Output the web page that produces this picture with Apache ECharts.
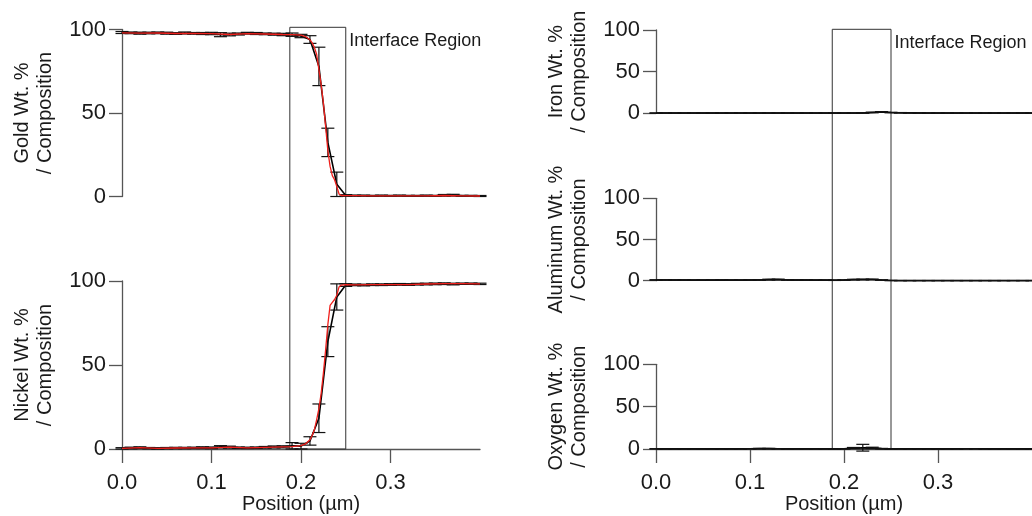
<!DOCTYPE html>
<html><head><meta charset="utf-8">
<script src="https://cdn.jsdelivr.net/npm/echarts@6/dist/echarts.min.js"></script>
<style>html,body{margin:0;padding:0;background:#fff}#c{width:1032px;height:516px}</style>
</head><body><div id="c"></div>
<script>
// ---- data ----
const positions = [0,0.01,0.02,0.03,0.04,0.05,0.06,0.07,0.08,0.09,0.10,0.11,0.12,0.13,0.14,0.15,0.16,0.17,0.18,0.19,0.20,0.21,0.22,0.23,0.24,0.25,0.26,0.27,0.28,0.29,0.30,0.31,0.32,0.33,0.34,0.35,0.36,0.37,0.38,0.39,0.40];
const goldVal = [98.2,98.0,97.8,97.9,98.0,97.8,97.6,97.9,97.7,97.6,97.6,96.9,97.0,97.3,97.8,97.6,97.4,97.2,97.0,96.9,96.1,94.0,77.9,32.4,7.3,0.6,0.5,0.5,0.4,0.5,0.4,0.5,0.4,0.4,0.5,0.4,0.7,0.8,0.4,0.4,0.3];
const goldErr = [0.6,0.5,0.6,0.5,0.5,0.6,0.5,0.6,0.5,0.6,0.7,1.2,0.8,0.6,0.5,0.6,0.5,0.6,0.7,1.0,1.0,2.3,11.5,8.5,7.3,0.5,0.3,0.3,0.3,0.3,0.3,0.3,0.3,0.3,0.3,0.3,0.5,0.5,0.3,0.3,0.3];
const nickelVal = [0.4,0.6,0.8,0.5,0.4,0.5,0.6,0.6,0.7,0.8,0.7,1.3,1.1,0.8,0.7,0.8,1.0,1.2,1.3,1.9,1.7,4.8,18.3,63.9,90.5,97.6,97.7,97.6,97.8,97.8,97.9,98.0,97.9,98.1,98.2,98.3,98.4,98.2,98.4,98.4,98.3];
const nickelErr = [0.4,0.5,0.5,0.4,0.4,0.4,0.4,0.4,0.4,0.5,0.5,0.7,0.6,0.4,0.4,0.4,0.5,0.6,0.6,1.9,1.7,2.5,8.5,8.9,7.8,0.8,0.5,0.5,0.5,0.5,0.5,0.5,0.5,0.5,0.5,0.5,0.5,0.5,0.4,0.4,0.4];
const ironVal = [0.3,0.3,0.3,0.3,0.3,0.3,0.3,0.3,0.3,0.3,0.3,0.3,0.3,0.3,0.3,0.3,0.3,0.3,0.3,0.3,0.3,0.3,0.4,1.0,1.6,0.9,0.6,0.5,0.4,0.3,0.3,0.3,0.3,0.3,0.3,0.3,0.3,0.3,0.3,0.3,0.3];
const ironErr = [0.2,0.2,0.2,0.2,0.2,0.2,0.2,0.2,0.2,0.2,0.2,0.2,0.2,0.2,0.2,0.2,0.2,0.2,0.2,0.2,0.2,0.2,0.3,0.4,0.4,0.3,0.3,0.2,0.2,0.2,0.2,0.2,0.2,0.2,0.2,0.2,0.2,0.2,0.2,0.2,0.2];
const aluVal = [0.9,0.9,0.8,0.8,0.7,0.7,0.7,0.8,0.7,0.7,0.8,0.9,1.3,1.4,0.9,0.8,0.8,0.7,0.7,0.6,0.8,1.3,1.4,1.5,0.8,0.2,0.1,0.1,0.1,0.1,0.1,0.1,0.1,0.1,0.1,0.1,0.1,0.1,0.1,0.1,0.1];
const aluErr = [0.3,0.3,0.3,0.3,0.3,0.3,0.3,0.3,0.3,0.3,0.3,0.3,0.5,0.5,0.3,0.3,0.3,0.3,0.3,0.3,0.3,0.4,0.5,0.5,0.3,0.2,0.1,0.1,0.1,0.1,0.1,0.1,0.1,0.1,0.1,0.1,0.1,0.1,0.1,0.1,0.1];
const oxyVal = [0.2,0.2,0.2,0.2,0.2,0.2,0.2,0.2,0.2,0.2,0.3,0.4,0.4,0.3,0.2,0.2,0.2,0.2,0.2,0.2,0.3,1.2,1.5,1.3,0.4,0.2,0.2,0.2,0.2,0.2,0.2,0.2,0.2,0.3,0.3,0.2,0.2,0.2,0.2,0.2,0.2];
const oxyErr = [0.2,0.2,0.2,0.2,0.2,0.2,0.2,0.2,0.2,0.2,0.2,0.3,0.3,0.2,0.2,0.2,0.2,0.2,0.2,0.2,0.2,0.6,4.0,0.8,0.3,0.2,0.2,0.2,0.2,0.2,0.2,0.2,0.2,0.2,0.2,0.2,0.2,0.2,0.2,0.2,0.2];

// fitted (red) curves
const fitPos = [0,0.02,0.04,0.06,0.08,0.10,0.12,0.14,0.16,0.18,0.19,0.2,0.205,0.21,0.2125,0.215,0.2175,0.22,0.2225,0.225,0.2275,0.23,0.2325,0.235,0.2375,0.24,0.2425,0.245,0.25,0.26,0.28,0.30,0.32,0.34,0.36,0.38,0.40];
const goldFit = [98.0,97.8,97.9,97.6,97.7,97.5,97.0,97.5,97.3,97.0,96.9,96.6,95.8,93.8,92.0,89.2,85.0,76.0,67.0,56.0,42.0,27.5,18.0,12.5,10.0,6.0,1.5,0.6,0.5,0.5,0.4,0.4,0.4,0.4,0.6,0.4,0.3];
const nickelFit = [0.4,0.8,0.4,0.6,0.7,0.7,1.1,0.7,1.0,1.3,1.4,2.0,3.0,5.5,8.0,11.5,17.5,24.0,33.0,45.0,59.0,74.0,85.5,87.3,89.0,91.5,96.5,97.6,97.8,97.7,97.8,97.9,97.9,98.2,98.4,98.4,98.3];

// interface region
const interfaceStart = 0.1875;
const interfaceEnd = 0.25;
const interfaceText = 'Interface Region';

const yTicks = [0, 50, 100];
const xTicks = [0, 0.1, 0.2, 0.3];
const xLabel = 'Position (µm)';
const yNames = ['Gold Wt. %\n/ Composition','Nickel Wt. %\n/ Composition','Iron Wt. %\n/ Composition','Aluminum Wt. %\n/ Composition','Oxygen Wt. %\n/ Composition'];

// ---- chart ----
const FONT = 'Liberation Sans, Arial, Helvetica, sans-serif';
const AX = '#555';
const TXT = '#1a1a1a';

const grids = [
  {left:122, top:29.5, width:358, height:167},
  {left:122, top:281, width:358, height:168},
  {left:656, top:30, width:379, height:83.3},
  {left:656, top:198.3, width:379, height:82.4},
  {left:656, top:364.3, width:379, height:84.7},
  {left:122, top:27.3, width:358, height:421.7},
  {left:656, top:29.3, width:379, height:419.7}
];

const showX = [false, true, false, false, true];
const xAxes = [];
const yAxes = [];
for (let i = 0; i < 5; i++) {
  xAxes.push({
    gridIndex:i, type:'value', min:0, max:0.4,
    show: showX[i],
    axisLine:{show:true, onZero:false, lineStyle:{color:AX, width:1.3}},
    axisTick:{show:true, length:14, lineStyle:{color:AX, width:1.3}, customValues:xTicks},
    axisLabel:{show:true, margin:23, fontSize:22, color:TXT, fontFamily:FONT, customValues:xTicks, formatter:v=>v.toFixed(1)},
    splitLine:{show:false},
    name: showX[i] ? xLabel : '',
    nameLocation:'middle', nameGap:42,
    nameTextStyle:{fontSize:20, color:TXT, fontFamily:FONT}
  });
  yAxes.push({
    gridIndex:i, type:'value', min:0, max:100, interval:50,
    axisLine:{show:true, lineStyle:{color:AX, width:1.3}},
    axisTick:{show:true, length:13, lineStyle:{color:AX, width:1.3}},
    axisLabel:{show:true, margin:16, fontSize:22, color:TXT, fontFamily:FONT},
    splitLine:{show:false},
    name: yNames[i], nameLocation:'middle', nameGap:65,
    nameTextStyle:{fontSize:20, lineHeight:23, color:TXT, fontFamily:FONT, align:'center'}
  });
}
// frame grids for interface boxes
for (let i = 5; i < 7; i++) {
  xAxes.push({gridIndex:i, type:'value', min:0, max:0.4, show:false});
  yAxes.push({gridIndex:i, type:'value', min:0, max:1, show:false});
}

function lineSeries(idx, xs, ys, color, width, z) {
  return {
    type:'line', xAxisIndex:idx, yAxisIndex:idx,
    data: xs.map((x,i)=>[x, ys[i]]),
    showSymbol:false, symbol:'none', smooth:false, z:z,
    lineStyle:{color:color, width:width}, animation:false, silent:true
  };
}
function errSeries(idx, vals, errs) {
  return {
    type:'custom', xAxisIndex:idx, yAxisIndex:idx, z:3,
    data: positions.map((x,i)=>[x, vals[i]-errs[i], vals[i]+errs[i]]),
    encode:{x:0, y:[1,2]},
    renderItem:(params, api)=>{
      const x = api.value(0);
      const lo = api.coord([x, api.value(1)]);
      const hi = api.coord([x, api.value(2)]);
      const w = 6.5;
      const st = {stroke:'#111', lineWidth:1.2};
      return {type:'group', children:[
        {type:'line', shape:{x1:lo[0], y1:lo[1], x2:hi[0], y2:hi[1]}, style:st},
        {type:'line', shape:{x1:lo[0]-w, y1:lo[1], x2:lo[0]+w, y2:lo[1]}, style:st},
        {type:'line', shape:{x1:hi[0]-w, y1:hi[1], x2:hi[0]+w, y2:hi[1]}, style:st}
      ]};
    },
    animation:false, silent:true
  };
}
function frameSeries(idx) {
  return {
    type:'custom', xAxisIndex:idx, yAxisIndex:idx, z:1,
    data:[[interfaceStart, interfaceEnd]],
    encode:{x:[0,1]},
    renderItem:(params, api)=>{
      const a = api.coord([api.value(0), 1]);
      const b = api.coord([api.value(1), 0]);
      return {type:'group', children:[
        {type:'rect', shape:{x:a[0], y:a[1], width:b[0]-a[0], height:b[1]-a[1]},
         style:{fill:'none', stroke:'#333', lineWidth:1}},
        {type:'text', x:b[0]+3.5, y:a[1]+14,
         style:{text:interfaceText, fill:TXT, fontSize:18, fontFamily:FONT, align:'left', verticalAlign:'middle'}}
      ]};
    },
    animation:false, silent:true
  };
}

const series = [
  frameSeries(5), frameSeries(6),
  lineSeries(0, positions, goldVal, '#000', 1.6, 2), errSeries(0, goldVal, goldErr), lineSeries(0, fitPos, goldFit, '#f0201c', 1.3, 4),
  lineSeries(1, positions, nickelVal, '#000', 1.6, 2), errSeries(1, nickelVal, nickelErr), lineSeries(1, fitPos, nickelFit, '#f0201c', 1.3, 4),
  lineSeries(2, positions, ironVal, '#000', 1.6, 2), errSeries(2, ironVal, ironErr),
  lineSeries(3, positions, aluVal, '#000', 1.6, 2), errSeries(3, aluVal, aluErr),
  lineSeries(4, positions, oxyVal, '#000', 1.6, 2), errSeries(4, oxyVal, oxyErr)
];

const chart = echarts.init(document.getElementById('c'), null, {renderer:'canvas'});
chart.setOption({
  animation:false,
  backgroundColor:'#fff',
  grid: grids.map(g=>Object.assign({containLabel:false}, g)),
  xAxis: xAxes,
  yAxis: yAxes,
  series: series
});
</script>
</body></html>
